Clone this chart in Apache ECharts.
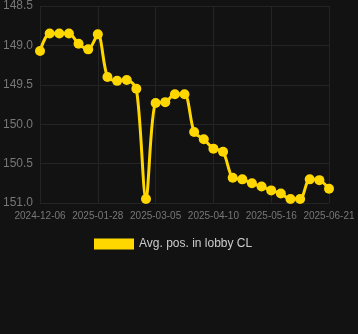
<!DOCTYPE html>
<html>
<head>
<meta charset="utf-8">
<script src="https://cdn.jsdelivr.net/npm/echarts@6/dist/echarts.min.js"></script>
<style>
html,body{margin:0;padding:0;background:#121212;}
#c{width:358px;height:334px;}
</style>
</head>
<body>
<div id="c"></div>
<script>
var dates = [
  "2024-12-06","2024-12-15","2024-12-24","2025-01-02","2025-01-11","2025-01-19",
  "2025-01-28","2025-02-03","2025-02-09","2025-02-15","2025-02-21","2025-02-27",
  "2025-03-05","2025-03-11","2025-03-17","2025-03-23","2025-03-29","2025-04-04",
  "2025-04-10","2025-04-16","2025-04-22","2025-04-28","2025-05-04","2025-05-10",
  "2025-05-16","2025-05-22","2025-05-28","2025-06-03","2025-06-09","2025-06-15",
  "2025-06-21"
];
var avgPos = [
  149.07,148.85,148.85,148.85,148.98,149.05,
  148.86,149.40,149.45,149.44,149.55,150.95,
  149.73,149.72,149.62,149.62,150.10,150.19,
  150.31,150.35,150.68,150.70,150.75,150.79,
  150.84,150.88,150.95,150.95,150.70,150.71,
  150.82
];
var seriesName = "Avg. pos. in lobby CL";
var yMin = 148.5, yMax = 151.0, yStep = 0.5;

var chart = echarts.init(document.getElementById('c'));
chart.setOption({
  backgroundColor: '#121212',
  animation: false,
  grid: {left: 40, right: 29, top: 6, height: 197},
  legend: {
    data: [seriesName],
    top: 233,
    left: 89,
    itemWidth: 40,
    itemHeight: 11,
    itemGap: 6,
    icon: 'rect',
    textStyle: {color: '#cccccc', fontSize: 12, fontFamily: 'Liberation Sans, Arial, sans-serif'}
  },
  xAxis: {
    type: 'category',
    data: dates,
    boundaryGap: false,
    axisLine: {show: false},
    axisTick: {show: false},
    axisLabel: {interval: 5, color: '#777777', fontSize: 10, margin: 8, fontFamily: 'Liberation Sans, Arial, sans-serif'},
    splitLine: {show: true, interval: 5, lineStyle: {color: '#242424', width: 1}}
  },
  yAxis: {
    type: 'value',
    inverse: true,
    min: yMin,
    max: yMax,
    interval: yStep,
    axisLine: {show: false},
    axisTick: {show: false},
    axisLabel: {color: '#777777', fontSize: 12, margin: 7, formatter: function(v){return v.toFixed(1);}, fontFamily: 'Liberation Sans, Arial, sans-serif'},
    splitLine: {show: true, lineStyle: {color: '#242424', width: 1}}
  },
  series: [{
    name: seriesName,
    type: 'line',
    data: avgPos,
    smooth: 0.3,
    showAllSymbol: true,
    symbol: 'circle',
    symbolSize: 10,
    lineStyle: {color: '#FFD700', width: 3},
    itemStyle: {color: '#FFD700'}
  }]
});
</script>
</body>
</html>
